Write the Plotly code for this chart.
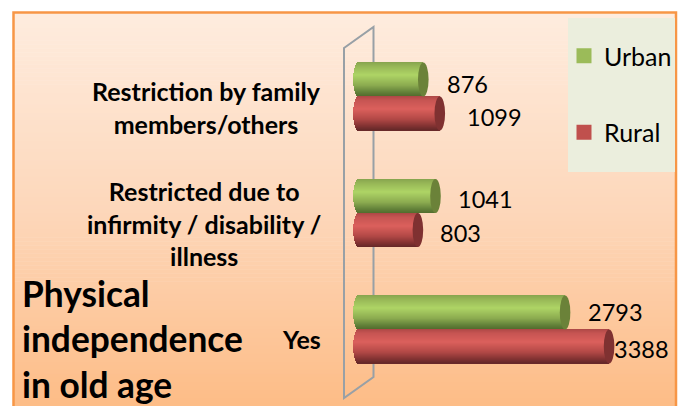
import math
import plotly.graph_objects as go

# ---- data ----
categories = ["Yes", "Restricted due to<br>infirmity / disability /<br>illness", "Restriction by family<br>members/others"]
urban = [2793, 1041, 876]
rural = [3388, 803, 1099]
title_lines = ["Physical", "independence", "in old age"]

# ---- style ----
W, H = 678, 406
FONT = "Lato"
PX_PER_UNIT = 0.07396
X0_PX = 358.5
CAT_PX = [329.5, 213.0, 96.5]
CAT_STEP = 116.5
BAR_PX = 34
RX = 5.3 / PX_PER_UNIT
N_BANDS = 34
urban_stops = [(0, (134, 164, 78)), (0.12, (150, 182, 86)), (0.38, (174, 212, 101)), (0.68, (140, 172, 80)), (0.88, (100, 130, 58)), (1, (82, 108, 46))]
rural_stops = [(0, (172, 72, 70)), (0.12, (198, 84, 82)), (0.38, (219, 96, 92)), (0.68, (178, 72, 70)), (0.88, (130, 50, 50)), (1, (100, 40, 40))]
urban_cap = "#6b8239"
rural_cap = "#7f3131"
urban_dx = [15.5, 15, 16]
rural_dx = [-2.5, 15, 20]
urban_dy = [-1, 2.5, 4]   # label offset below bar centre, px
rural_dy = [2, 3, 3]
cat_dy = [9, 10, 11]
title_y_px = [293, 338, 384]


def grad(stops, t):
    for (a, ca), (b, cb) in zip(stops, stops[1:]):
        if t <= b:
            f = (t - a) / (b - a)
            return "rgb(%d,%d,%d)" % tuple(round(p + (q - p) * f) for p, q in zip(ca, cb))
    return "rgb(%d,%d,%d)" % stops[-1][1]


def bg(t):
    top, mid, bot = (254, 236, 222), (253, 215, 186), (253, 188, 134)
    a, b, f = (top, mid, t / 0.5) if t < 0.5 else (mid, bot, (t - 0.5) / 0.5)
    return "rgb(%d,%d,%d)" % tuple(round(p + (q - p) * f) for p, q in zip(a, b))


xpx = lambda p: (p - X0_PX) / PX_PER_UNIT
ypx = lambda p: (CAT_PX[0] - p) / CAT_STEP
idx = list(range(len(categories)))
bw = BAR_PX / CAT_STEP

fig = go.Figure()
series = [("Urban", urban, "#9bbb59", urban_stops, 0.0, urban_cap, urban_dx, urban_dy),
          ("Rural", rural, "#c0504d", rural_stops, -bw, rural_cap, rural_dx, rural_dy)]
shapes, annots = [], []

# background
strips = 98
top_px = 12
for i in range(strips):
    y0 = top_px + (H - top_px) * i / strips
    y1 = top_px + (H - top_px) * (i + 1) / strips + 0.5
    shapes.append(dict(type="rect", xref="paper", yref="paper", x0=13 / W, x1=677 / W,
                       y0=1 - y0 / H, y1=1 - y1 / H, fillcolor=bg(i / strips), line_width=0, layer="below"))
# frame
shapes.append(dict(type="path", xref="paper", yref="paper", layer="below",
                   path=f"M {13.5/W},0 L {13.5/W},{1-12.5/H} L {676/W},{1-12.5/H} L {676/W},0",
                   line=dict(color="#f79646", width=2.5)))
# legend panel
shapes.append(dict(type="rect", xref="paper", yref="paper", x0=568 / W, x1=675 / W, y0=1 - 18 / H, y1=1 - 172 / H,
                   fillcolor="#ebeedd", line_width=0, layer="below"))
# wall
shapes.append(dict(type="path", xref="paper", yref="paper", layer="below",
                   path=f"M {344/W},{1-48/H} L {373.5/W},{1-27/H} L {373.5/W},{1-377/H} L {344/W},{1-398/H} Z",
                   line=dict(color="#98a0a6", width=2)))

for name, vals, col, stops, off, cap, dxs, dys in series:
    fig.add_trace(go.Scatter(name=name, x=[None], y=[None], mode="markers", legendgroup=name,
                             marker=dict(symbol="square", size=15, color=col)))
    fig.add_trace(go.Bar(name=name, y=idx, x=vals, orientation="h", width=bw, offset=off, legendgroup=name,
                         showlegend=False, marker=dict(color=col, line_width=0), hoverinfo="x+name"))
    for k in range(N_BANDS):
        t = (k + 0.5) / N_BANDS
        u = 2 * t - 1
        b = -RX * math.sqrt(max(0, 1 - u * u))
        h = bw / N_BANDS
        fig.add_trace(go.Bar(y=idx, x=[v - b for v in vals], base=[b] * len(vals), orientation="h", width=h,
                             offset=off + bw - (k + 1) * h, showlegend=False, hoverinfo="skip",
                             marker=dict(color=grad(stops, t), line_width=0)))
    for i, v in enumerate(vals):
        shapes.append(dict(type="circle", xref="x", yref="y", layer="above",
                           x0=v - RX, x1=v + RX, y0=i + off, y1=i + off + bw, fillcolor=cap, line_width=0))
        annots.append(dict(x=v, y=i + off + bw / 2, xref="x", yref="y", xanchor="left", yanchor="middle",
                           xshift=RX * PX_PER_UNIT + dxs[i], yshift=-dys[i], showarrow=False, text=str(v),
                           font=dict(family=FONT, size=23.5, color="#000000")))

for i, c in enumerate(categories):
    annots.append(dict(x=323 / W, y=i, xref="paper", yref="y", xanchor="right", yanchor="middle", align="center",
                       yshift=-cat_dy[i], showarrow=False, text=c,
                       font=dict(family=FONT, size=25, color="#000000", weight=700)))

for line, py in zip(title_lines, title_y_px):
    annots.append(dict(x=20 / W, y=1 - py / H, xref="paper", yref="paper", xanchor="left", yanchor="middle",
                       showarrow=False, text=line, font=dict(family=FONT, size=35.3, color="#000000", weight=700)))

fig.update_layout(
    width=W, height=H, margin=dict(l=0, r=0, t=0, b=0),
    paper_bgcolor="white", plot_bgcolor="rgba(0,0,0,0)", barmode="overlay", bargap=0,
    xaxis=dict(visible=False, range=[xpx(0), xpx(W)], fixedrange=True),
    yaxis=dict(visible=False, range=[ypx(H), ypx(0)], fixedrange=True),
    shapes=shapes, annotations=annots,
    legend=dict(x=564 / W, y=1 - 33 / H, xanchor="left", yanchor="top", bgcolor="rgba(0,0,0,0)",
                entrywidth=62, entrywidthmode="pixels",
                font=dict(family=FONT, size=25, color="#000000"), tracegroupgap=41, traceorder="grouped"),
)
fig.write_html("out.html", config={"displayModeBar": False},
               post_script="document.body.style.margin='0';document.documentElement.style.overflow='hidden';")
